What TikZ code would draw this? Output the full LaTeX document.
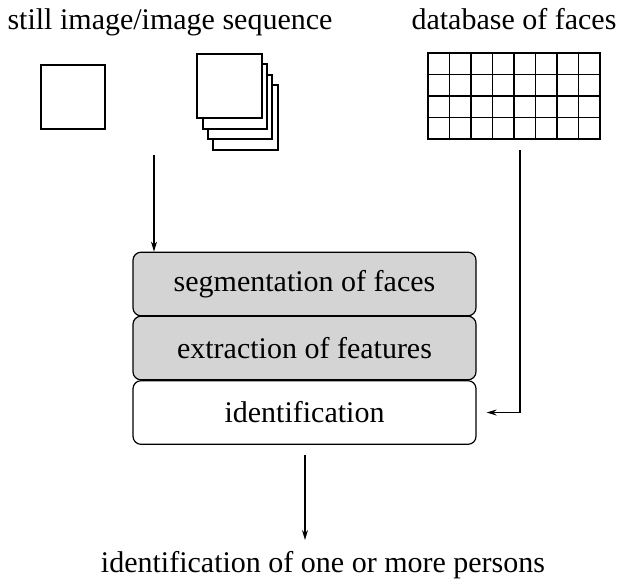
\documentclass[tikz,border=0pt]{standalone}
\usepackage{fontspec}
\setmainfont{Liberation Serif}
\usetikzlibrary{arrows.meta}
\begin{document}
\begin{tikzpicture}[x=0.5pt,y=-0.5pt,
  every node/.style={font=\fontsize{15}{18}\selectfont},
  stage/.style={draw, line width=0.6pt, rounded corners=4pt, minimum width=171.5pt, minimum height=31.8pt, inner sep=0pt},
  grey/.style={fill=black!17},
  sheet/.style={draw, line width=0.6pt, fill=white},
  flow/.style={line width=0.6pt, -{Stealth[length=5pt,width=3pt]}}]
\useasboundingbox (0,0) rectangle (619,580);

% captions
\node[anchor=base] (cap1) at (170,29) {still image/image sequence};
\node[anchor=base] (cap2) at (514,29) {database of faces};

% single still image
\draw[sheet] (41,65) rectangle (105,129);

% stack of image frames, drawn back to front
\draw[sheet] (213,85) rectangle (278,150);
\draw[sheet] (208,75) rectangle (272,139);
\draw[sheet] (203,64) rectangle (267,129);
\draw[sheet] (197,54) rectangle (262,118);

% face database: 8 x 4 grid of cells
\draw[line width=0.6pt] (428,53) rectangle (600,139);
\foreach \i in {1,...,7}
  \draw[line width=0.6pt] ({428+21.5*\i},53) -- ({428+21.5*\i},139);
\foreach \j in {1,2,3}
  \draw[line width=0.6pt] (428,{53+21.5*\j}) -- (600,{53+21.5*\j});

% processing stages
\node[stage, grey] (seg) at (304.5,284) {segmentation of faces};
\node[stage, grey] (ext) at (304.5,348) {extraction of features};
\node[stage] (ident) at (304.5,412.5) {identification};

% result
\node[anchor=base] (result) at (323,572) {identification of one or more persons};

% connectors
\coordinate (imgout) at (154,155);
\coordinate (dbout) at (520,150);
\coordinate (identout) at (305,455);
\draw[flow] (imgout) -- (imgout |- seg.north);
\draw[flow] (dbout) |- ([xshift=5pt]ident.east);
\draw[flow] (identout) -- (305,540);
\end{tikzpicture}
\end{document}
